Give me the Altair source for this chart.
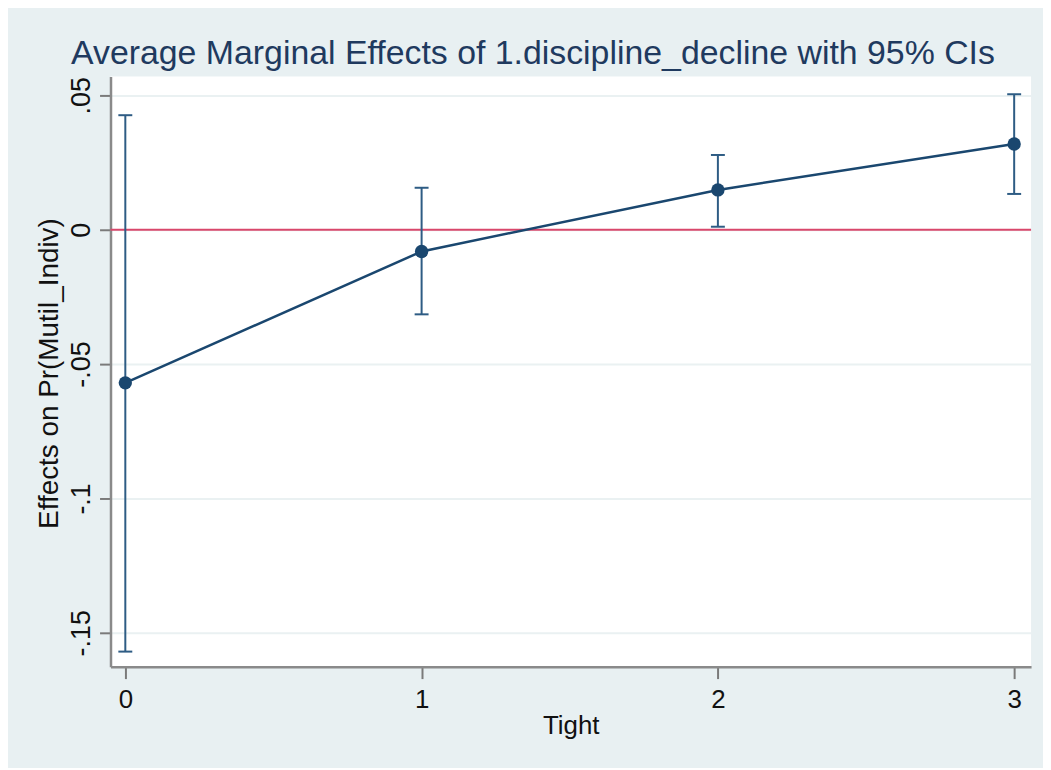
import altair as alt
import pandas as pd

# Data
tight = [0, 1, 2, 3]
effect = [-0.057, -0.0081, 0.0148, 0.0319]
ci_low = [-0.157, -0.0315, 0.0011, 0.0133]
ci_high = [0.0426, 0.0156, 0.0278, 0.0504]
x_ticks = [0, 1, 2, 3]
y_ticks = [-0.15, -0.1, -0.05, 0, 0.05]
ref_value = [0]

df = pd.DataFrame({"tight": tight, "effect": effect, "ci_low": ci_low, "ci_high": ci_high})
ref = pd.DataFrame({"ref": ref_value})

FONT = "Liberation Sans"
NAVY = "#1A476F"
BAR = "#2E5C84"
RED = "#D9476B"

xscale = alt.Scale(domain=[-0.05, 3.057], nice=False, zero=False)
yscale = alt.Scale(domain=[-0.1626, 0.057], nice=False, zero=False)

xaxis = alt.Axis(
    values=x_ticks, format="d", grid=False, title="Tight",
    labelFontSize=26, titleFontSize=26, labelFont=FONT, titleFont=FONT,
    labelColor="#111", titleColor="#111", titleFontWeight="normal",
    tickSize=12, tickWidth=2, tickColor="#7a7a7a",
    domainColor="#8a8a8a", domainWidth=2.5,
    labelBaseline="alphabetic", labelPadding=29,
    titleX=462.5, titleY=67, titleBaseline="alphabetic", titleAlign="center",
)
yaxis = alt.Axis(
    values=y_ticks, title="Effects on Pr(Mutil_Indiv)",
    labelExpr="datum.value == 0 ? '0' : replace(toString(datum.value), '0.', '.')",
    labelAngle=-90, labelAlign="center", labelBaseline="alphabetic", labelPadding=10,
    labelFontSize=27, titleFontSize=28, labelFont=FONT, titleFont=FONT,
    labelColor="#111", titleColor="#111", titleFontWeight="normal",
    tickSize=11, tickWidth=2, tickColor="#7a7a7a",
    domainColor="#8a8a8a", domainWidth=2.5,
    grid=True, gridColor="#EAF1F2", gridWidth=2,
    titleAngle=-90, titleX=-53, titleY=298, titleBaseline="alphabetic", titleAlign="center",
)

X = alt.X("tight:Q", scale=xscale, axis=xaxis)

zero_line = alt.Chart(ref).mark_rule(color=RED, strokeWidth=2).encode(
    y=alt.Y("ref:Q", scale=yscale, axis=yaxis)
)
bars = alt.Chart(df).mark_rule(color=BAR, strokeWidth=2).encode(
    x=X, y=alt.Y("ci_low:Q", scale=yscale, axis=yaxis), y2="ci_high:Q"
)
cap_low = alt.Chart(df).mark_tick(color=BAR, orient="horizontal", size=14, thickness=2, opacity=1).encode(
    x=X, y=alt.Y("ci_low:Q", scale=yscale, axis=yaxis)
)
cap_high = alt.Chart(df).mark_tick(color=BAR, orient="horizontal", size=14, thickness=2, opacity=1).encode(
    x=X, y=alt.Y("ci_high:Q", scale=yscale, axis=yaxis)
)
line = alt.Chart(df).mark_line(color=NAVY, strokeWidth=2.5).encode(
    x=X, y=alt.Y("effect:Q", scale=yscale, axis=yaxis)
)
points = alt.Chart(df).mark_circle(color=NAVY, size=180, opacity=1).encode(
    x=X, y=alt.Y("effect:Q", scale=yscale, axis=yaxis)
)

chart = alt.layer(zero_line, bars, cap_low, cap_high, line, points).properties(
    width=925,
    height=593,
    padding={"left": 103, "top": 67, "right": 12, "bottom": 100},
    autosize=alt.AutoSizeParams(type="none"),
    background="#E8F0F2",
    title=alt.Title(
        "Average Marginal Effects of 1.discipline_decline with 95% CIs",
        fontSize=34, font=FONT, fontWeight="normal", color="#1F3A5F",
        anchor="middle", dx=-38, dy=33, offset=12, baseline="alphabetic",
    ),
).configure_view(fill="white", strokeWidth=0)

chart.save("out.html", embed_options={"renderer": "svg", "actions": False})
